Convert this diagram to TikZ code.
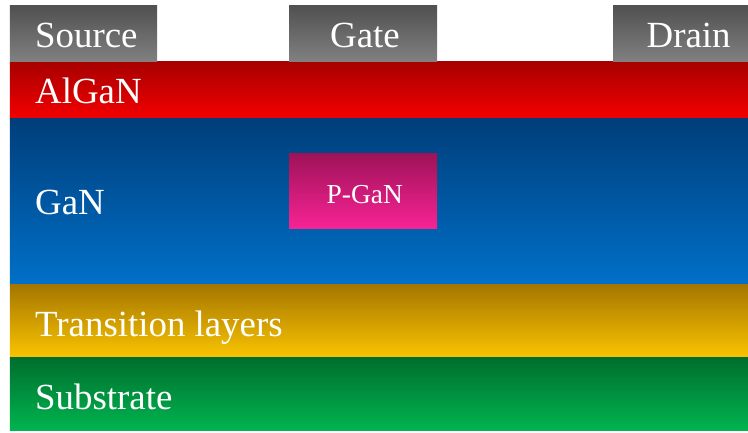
\documentclass[tikz,border=0pt]{standalone}
\usepackage{fontspec}
\setmainfont{Liberation Serif}
\usetikzlibrary{positioning}
\definecolor{padtop}{RGB}{80,80,80}
\definecolor{padbot}{RGB}{128,128,128}
\definecolor{redtop}{RGB}{166,0,0}
\definecolor{redbot}{RGB}{243,0,0}
\definecolor{bluetop}{RGB}{0,62,122}
\definecolor{bluebot}{RGB}{0,112,200}
\definecolor{pinktop}{RGB}{158,18,88}
\definecolor{pinkbot}{RGB}{247,35,148}
\definecolor{goldtop}{RGB}{164,118,0}
\definecolor{goldbot}{RGB}{250,196,0}
\definecolor{greentop}{RGB}{0,110,45}
\definecolor{greenbot}{RGB}{0,180,80}

\begin{document}
\begin{tikzpicture}[x=1bp,y=-1bp,
    lay/.style={minimum width=738bp,inner sep=0pt,outer sep=0pt},
    pad/.style={minimum height=56bp,inner sep=0pt,outer sep=0pt,top color=padtop,bottom color=padbot},
    lbl/.style={text=white,font=\fontsize{37}{40}\selectfont,inner sep=0pt,anchor=base west}]
  \useasboundingbox (0,0) rectangle (748,432);
  % layer stack
  \node[lay,minimum height=57bp,top color=redtop,bottom color=redbot] (algan) at (379,89.5) {};
  \node[lay,minimum height=166bp,top color=bluetop,bottom color=bluebot] (gan) at (379,201) {};
  \node[lay,minimum height=73.5bp,top color=goldtop,bottom color=goldbot] (trans) at (379,320.75) {};
  \node[lay,minimum height=72.5bp,top color=greentop,bottom color=greenbot] (sub) at (379,393.75) {};
  % contacts
  \node[pad,minimum width=147bp] (src) at (83.5,33) {};
  \node[pad,minimum width=148bp] (gate) at (363,33) {};
  \node[pad,minimum width=135bp] (drn) at (680.5,33) {};
  \node[minimum width=148bp,minimum height=75bp,inner sep=0pt,top color=pinktop,bottom color=pinkbot] (pgan) at (363,190.5) {};
  % labels
  \node[lbl] (tsrc) at (35,47) {Source};
  \node[lbl] (tgate) at (330,47) {Gate};
  \node[lbl] (tdrn) at (646.5,47) {Drain};
  \node[lbl] (talgan) at (35,103) {AlGaN};
  \node[lbl] (tgan) at (35,214) {GaN};
  \node[lbl,font=\fontsize{27.5}{30}\selectfont] (tpgan) at (326.5,203) {P-GaN};
  \node[lbl] (ttrans) at (35,336.5) {Transition layers};
  \node[lbl] (tsub) at (35,409.5) {Substrate};
\end{tikzpicture}
\end{document}
